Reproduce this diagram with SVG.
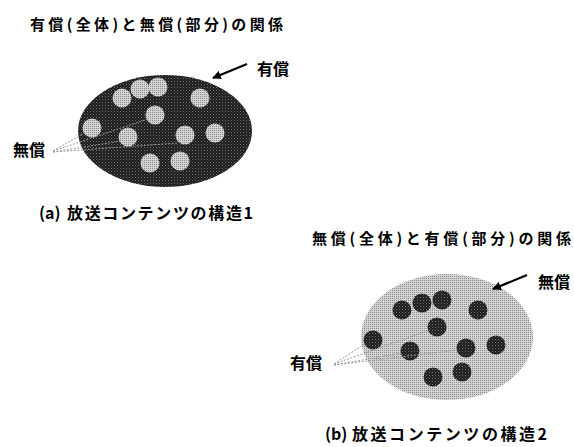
<svg xmlns="http://www.w3.org/2000/svg" width="574" height="447" viewBox="0 0 574 447">
<style>
.t{font-family:"Noto Sans CJK JP","Liberation Sans",sans-serif;font-weight:bold;fill:#000}
.title{font-size:15px}
.lab{font-size:16px}
.cap{font-size:16px}
.dot{stroke:#9a9a9a;stroke-width:1;stroke-dasharray:2,1.5;fill:none}
.arr{stroke:#000;stroke-width:2.2;fill:none}
.dk{fill:url(#dark)}
.lt{fill:url(#light)}
</style>
<defs>
<pattern id="dark" width="3" height="3" patternUnits="userSpaceOnUse">
<rect width="3" height="3" fill="#1c1c1c"/>
<rect x="0" y="0" width="1" height="1" fill="#777"/>
<rect x="1.5" y="1.5" width="1" height="1" fill="#555"/>
</pattern>
<pattern id="light" width="2" height="2" patternUnits="userSpaceOnUse">
<rect width="2" height="2" fill="#d4d4d4"/>
<rect x="0" y="0" width="1" height="1" fill="#8a8a8a"/>
</pattern>
<marker id="ah" viewBox="0 0 10 10" refX="9" refY="5" markerWidth="4" markerHeight="4" orient="auto">
<path d="M0,0 L10,5 L0,10 z" fill="#000"/>
</marker>
</defs>

<g id="figA">
<text class="t title" x="30" y="30" textLength="253" lengthAdjust="spacing">有償(全体)と無償(部分)の関係</text>
<g id="ellipseA">
<ellipse class="dk" cx="165" cy="131" rx="87" ry="56"/>
</g>
<g id="circlesA" class="lt">
<circle cx="122" cy="98" r="9.5"/>
<circle cx="140" cy="89" r="9.5"/>
<circle cx="158" cy="87" r="9.5"/>
<circle cx="200" cy="98" r="9.5"/>
<circle cx="155" cy="115" r="9.5"/>
<circle cx="92" cy="128" r="9.5"/>
<circle cx="128" cy="137" r="9.5"/>
<circle cx="185" cy="135" r="9.5"/>
<circle cx="215" cy="133" r="9.5"/>
<circle cx="150" cy="163" r="9.5"/>
<circle cx="180" cy="161" r="9.5"/>
</g>
<g id="labelA1"><text class="t lab" x="257" y="75">有償</text></g>
<g id="labelA2"><text class="t lab" x="13" y="156">無償</text></g>
<text class="t cap" x="39" y="219"><tspan>(a)</tspan><tspan x="67" textLength="186" lengthAdjust="spacing">放送コンテンツの構造1</tspan></text>
</g>

<g id="figB">
<text class="t title" x="312" y="244" textLength="259" lengthAdjust="spacing">無償(全体)と有償(部分)の関係</text>
<g id="ellipseB">
<ellipse class="lt" cx="447" cy="337" rx="86" ry="63"/>
</g>
<g id="circlesB" class="dk">
<circle cx="402" cy="310" r="9.5"/>
<circle cx="422" cy="303" r="9.5"/>
<circle cx="442" cy="300" r="9.5"/>
<circle cx="478" cy="310" r="9.5"/>
<circle cx="437" cy="327" r="9.5"/>
<circle cx="373" cy="340" r="9.5"/>
<circle cx="410" cy="351" r="9.5"/>
<circle cx="466" cy="348" r="9.5"/>
<circle cx="496" cy="345" r="9.5"/>
<circle cx="433" cy="377" r="9.5"/>
<circle cx="462" cy="372" r="9.5"/>
</g>
<g id="labelB1"><text class="t lab" x="538" y="288">無償</text></g>
<g id="labelB2"><text class="t lab" x="290" y="369">有償</text></g>
<text class="t cap" x="325" y="440"><tspan>(b)</tspan><tspan x="352" textLength="195" lengthAdjust="spacing">放送コンテンツの構造2</tspan></text>
</g>

<g id="connectors">
<line class="arr" x1="247" y1="64" x2="213" y2="78" marker-end="url(#ah)"/>
<line class="arr" x1="527" y1="275" x2="493" y2="289" marker-end="url(#ah)"/>
<path class="dot" d="M53,151 L86,132 M53,151 L148,119 M53,152 L178,143 M53,152 L121,141"/>
<path class="dot" d="M334,364 L366,343 M334,364 L430,330 M334,365 L458,350 M334,365 L402,353"/>
</g>
</svg>
